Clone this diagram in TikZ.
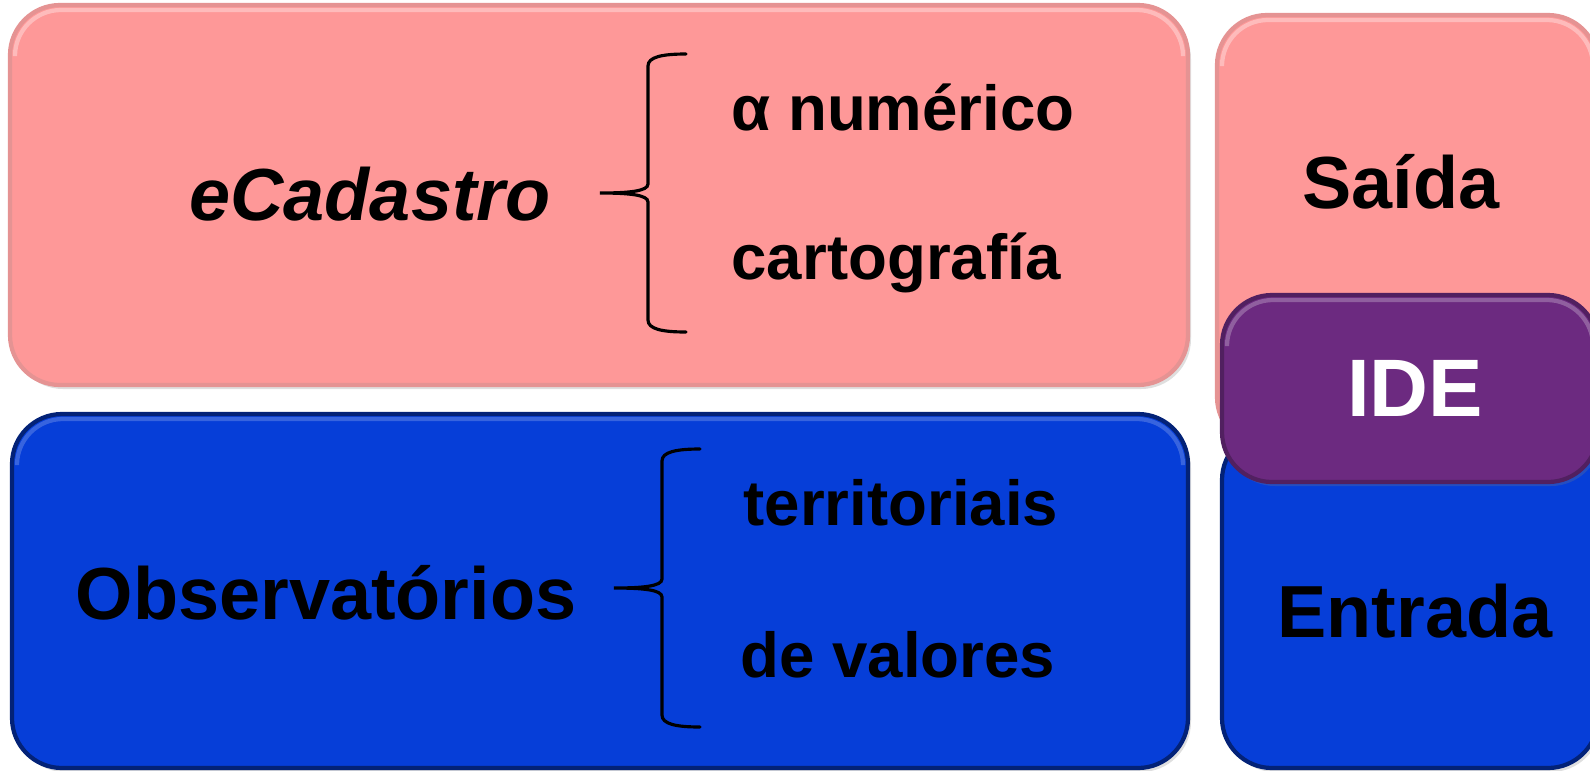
\documentclass[tikz,border=0pt]{standalone}
\usepackage{fontspec}
\setmainfont{Liberation Sans}
\usetikzlibrary{shadows}
\usetikzlibrary{calc,positioning}

\definecolor{rosa}{RGB}{254,152,152}
\definecolor{azul}{RGB}{6,62,216}
\definecolor{roxo}{RGB}{108,42,128}

\tikzset{
    caixa/.style={rounded corners=0.5cm, line width=1.2pt, drop shadow={opacity=0.25, shadow xshift=0.03cm, shadow yshift=-0.04cm}},
    brilho/.style={rounded corners=0.46cm, white, opacity=0.35, line width=1.2pt},
    grande/.style={anchor=base, inner sep=0pt, font=\fontsize{21pt}{25pt}\selectfont\bfseries},
    pequeno/.style={anchor=base, inner sep=0pt, font=\fontsize{18.1pt}{22pt}\selectfont\bfseries},
    chave/.pic={
        \draw[line width=0.9pt, line cap=round] (0.86,-1.39) .. controls (0.62,-1.39) and (0.48,-1.36) .. (0.48,-1.27) -- (0.48,-0.09) .. controls (0.48,-0.02) and (0.30,0) .. (0,0) .. controls (0.30,0) and (0.48,0.02) .. (0.48,0.09) -- (0.48,1.27) .. controls (0.48,1.36) and (0.62,1.39) .. (0.86,1.39);
    }
}

\begin{document}
\begin{tikzpicture}[x=1cm, y=-1cm]

    \useasboundingbox (0,0) rectangle (15.9,7.7);
    \clip (0,0) rectangle (15.9,7.7);

    % caixas da esquerda
    \filldraw[caixa, fill=rosa, draw=rosa!80!gray] (0.10,0.05) rectangle (11.88,3.85);
    \draw[brilho] (0.15,0.50) |- (11.83,0.10) -- (11.83,0.50);
    \filldraw[caixa, fill=azul, draw=azul!55!black] (0.12,4.14) rectangle (11.88,7.68);
    \draw[brilho, opacity=0.2] (0.17,4.59) |- (11.83,4.19) -- (11.83,4.59);

    % coluna da direita
    \filldraw[caixa, fill=rosa, draw=rosa!80!gray] (12.17,0.15) rectangle (15.98,4.47);
    \draw[brilho] (12.22,0.60) |- (15.93,0.20) -- (15.93,0.60);
    \filldraw[caixa, fill=azul, draw=azul!55!black] (12.22,4.30) rectangle (15.98,7.68);
    \filldraw[caixa, fill=roxo, draw=roxo!75!black] (12.22,2.95) rectangle (15.98,4.82);
    \draw[brilho, opacity=0.25] (12.27,3.40) |- (15.93,3.00) -- (15.93,3.40);

    \node[grande] (ecadastro) at (3.70,2.20) {\textit{eCadastro}};
    \node[pequeno] (alfa) at (9.03,1.30) {α numérico};
    \node[pequeno] (carto) at (8.96,2.79) {cartografía};
    \pic at (6.00,1.93) {chave};

    \node[grande] (observ) at (3.26,6.19) {Observatórios};
    \node[pequeno] (territ) at (9.01,5.25) {territoriais};
    \node[pequeno] (valores) at (8.98,6.77) {de valores};
    \pic at (6.14,5.88) {chave};

    \node[grande] (saida) at (14.01,2.08) {Saída};
    \node[grande, font=\fontsize{23.2pt}{27pt}\selectfont\bfseries, text=white] (ide) at (14.15,4.16) {IDE};
    \node[grande] (entrada) at (14.15,6.37) {Entrada};

\end{tikzpicture}
\end{document}
